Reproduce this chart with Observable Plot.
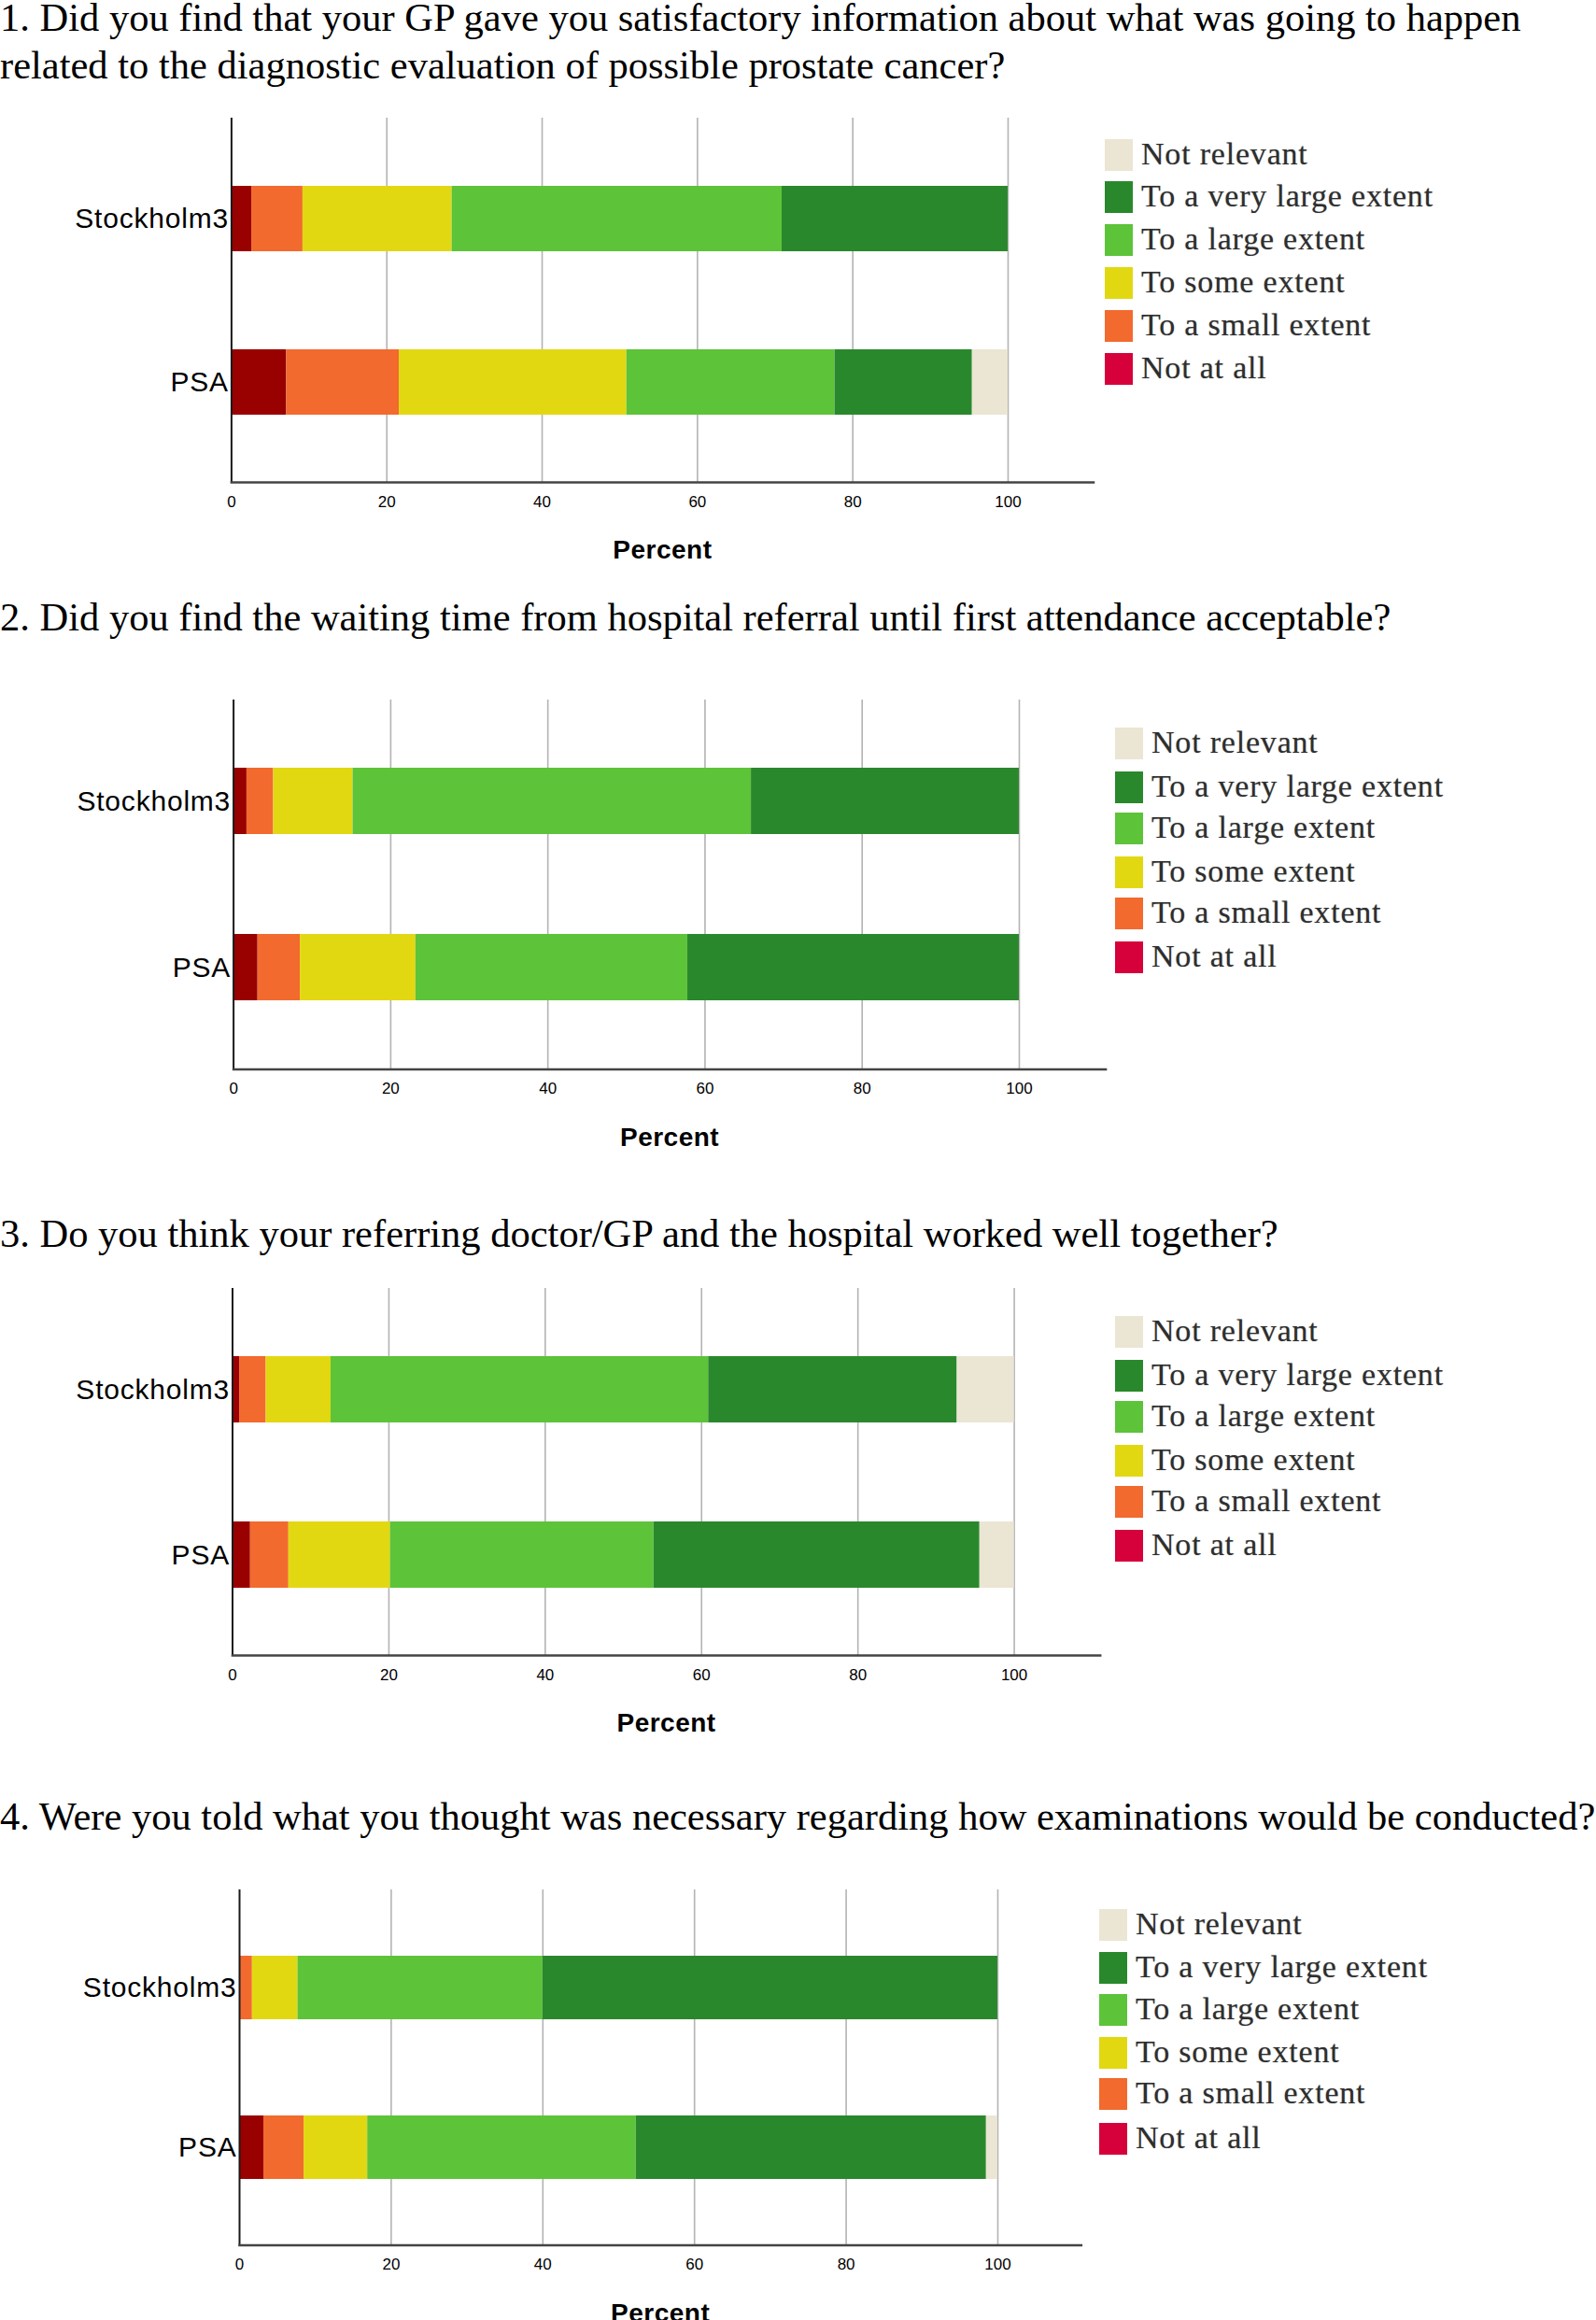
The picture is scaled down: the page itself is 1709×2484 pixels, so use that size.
<!DOCTYPE html>
<html>
<head>
<meta charset="utf-8">
<script src="https://cdn.jsdelivr.net/npm/d3@7"></script>
<script src="https://cdn.jsdelivr.net/npm/@observablehq/plot@0.6"></script>
<style>
  html, body { margin: 0; padding: 0; background: #fff; }
  body { position: relative; width: 1709px; height: 2484px; overflow: hidden; }
  .title { position: absolute; left: 0; font-family: "Liberation Serif", "Times New Roman", serif; font-size: 42.5px; line-height: 51px; color: #000; white-space: nowrap; }
  .plot { position: absolute; left: 0; }
  .plot svg { overflow: visible; }
  .plot g[aria-label="y-axis tick label"] text { letter-spacing: 0.8px; }
  .plot g[aria-label="x-axis label"] text { letter-spacing: 0.5px; }
  .leg { position: absolute; }
  .leg .row { position: absolute; left: 0; height: 33px; white-space: nowrap; }
  .leg .sw { position: absolute; left: 0; top: 0; width: 30px; height: 34px; }
  .leg .lab { position: absolute; left: 39px; top: -6px; font-family: "Liberation Serif", "Times New Roman", serif; font-size: 34px; line-height: 44px; letter-spacing: 0.8px; color: #2e2e2e; text-shadow: 0 0 1.2px rgba(0,0,0,0.35); }
</style>
</head>
<body>
<script>
// ---------- data ----------
const categories = ["Not at all", "To a small extent", "To some extent", "To a large extent", "To a very large extent", "Not relevant"];
const legendOrder = ["Not relevant", "To a very large extent", "To a large extent", "To some extent", "To a small extent", "Not at all"];
const groups = ["Stockholm3", "PSA"];
const xTicks = [0, 20, 40, 60, 80, 100];
const questionTitles = [
  ["1. Did you find that your GP gave you satisfactory information about what was going to happen", "related to the diagnostic evaluation of possible prostate cancer?"],
  ["2. Did you find the waiting time from hospital referral until first attendance acceptable?"],
  ["3. Do you think your referring doctor/GP and the hospital worked well together?"],
  ["4. Were you told what you thought was necessary regarding how examinations would be conducted?"]
];
// percent per category, in the order of `categories`
const q1Stockholm3 = [2.6, 6.6, 19.2, 42.5, 29.1, 0];
const q1PSA        = [7.1, 14.5, 29.3, 26.8, 17.7, 4.6];
const q2Stockholm3 = [1.7, 3.4, 10.1, 50.7, 34.1, 0];
const q2PSA        = [3.1, 5.4, 14.7, 34.6, 42.2, 0];
const q3Stockholm3 = [0.9, 3.4, 8.3, 48.3, 31.8, 7.3];
const q3PSA        = [2.3, 4.9, 13.0, 33.7, 41.7, 4.4];
const q4Stockholm3 = [0, 1.7, 6.0, 32.3, 60.0, 0];
const q4PSA        = [3.2, 5.3, 8.4, 35.4, 46.2, 1.5];
const seriesByQuestion = [
  [q1Stockholm3, q1PSA],
  [q2Stockholm3, q2PSA],
  [q3Stockholm3, q3PSA],
  [q4Stockholm3, q4PSA]
];

// ---------- styles ----------
const barColors = ["#990000", "#f26a2e", "#e2d812", "#5dc339", "#2a882c", "#ebe5d3"];
const legendColors = {"Not relevant": "#ebe5d3", "To a very large extent": "#2a882c", "To a large extent": "#5dc339", "To some extent": "#e2d812", "To a small extent": "#f26a2e", "Not at all": "#d6003a"};

// layout per panel (pixels)
const layout = [
  {titleTop: -6.85, x0: 247.4, x100: 1079, gridTop: 126, axisY: 516, legX: 1183, legRows: [166, 211, 257, 303, 349, 395]},
  {titleTop: 635.15, x0: 249.6, x100: 1091, gridTop: 748.5, axisY: 1144, legX: 1194, legRows: [796, 843, 887, 934, 978, 1025]},
  {titleTop: 1295.15, x0: 248.5, x100: 1085.6, gridTop: 1379, axisY: 1772, legX: 1194, legRows: [1426, 1473, 1517, 1564, 1608, 1655]},
  {titleTop: 1919.15, x0: 256, x100: 1068, gridTop: 2022.5, axisY: 2403, legX: 1177, legRows: [2061, 2107, 2152, 2198, 2242, 2290]}
];
const xMax = 111;

layout.forEach((L, qi) => {
  // title
  const t = document.createElement("div");
  t.className = "title";
  t.style.top = L.titleTop + "px";
  t.innerHTML = questionTitles[qi].map(s => s.replace(/&/g, "&amp;").replace(/</g, "&lt;")).join("<br>");
  document.body.appendChild(t);

  // data rows
  const rows = [];
  groups.forEach((g, gi) => {
    categories.forEach((c, ci) => rows.push({group: g, category: c, value: seriesByQuestion[qi][gi][ci]}));
  });

  const k = (L.x100 - L.x0) / 100;
  const marginTop = 1, marginRight = 10, marginBottom = 100;
  const plotH = L.axisY - L.gridTop;
  const width = L.x0 + xMax * k + marginRight;
  const height = plotH + marginTop + marginBottom;

  const chart = Plot.plot({
    width, height,
    marginLeft: L.x0, marginRight, marginTop, marginBottom,
    style: {fontFamily: "'Liberation Sans', Arial, sans-serif", color: "#000", background: "transparent", overflow: "visible"},
    x: {domain: [0, xMax]},
    y: {domain: groups, paddingInner: 0.6, paddingOuter: 0.41},
    color: {domain: categories, range: barColors},
    marks: [
      Plot.gridX(xTicks.filter(d => d > 0), {stroke: "#b3b3b3", strokeOpacity: 1, strokeWidth: 1.6}),
      Plot.barX(rows, {y: "group", x: "value", fill: "category"}),
      Plot.ruleX([0], {stroke: "#1a1a1a", strokeWidth: 2}),
      Plot.frame({anchor: "bottom", stroke: "#444", strokeWidth: 2.6}),
      Plot.axisX({ticks: xTicks, tickSize: 0, tickPadding: 14, fontSize: 17, label: null}),
      Plot.axisX({ticks: [], label: "Percent", labelAnchor: "center", labelArrow: "none", labelOffset: 82, fontSize: 28, fontWeight: "bold"}),
      Plot.axisY({tickSize: 0, tickPadding: 3, fontSize: 30, label: null})
    ]
  });
  const wrap = document.createElement("div");
  wrap.className = "plot";
  wrap.style.top = (L.gridTop - marginTop) + "px";
  wrap.appendChild(chart);
  document.body.appendChild(wrap);

  // legend
  const leg = document.createElement("div");
  leg.className = "leg";
  leg.style.left = L.legX + "px";
  leg.style.top = "0px";
  legendOrder.forEach((c, i) => {
    const r = document.createElement("div");
    r.className = "row";
    r.style.top = (L.legRows[i] - 17) + "px";
    const sw = document.createElement("div");
    sw.className = "sw";
    sw.style.background = legendColors[c];
    const lab = document.createElement("div");
    lab.className = "lab";
    lab.textContent = c;
    r.appendChild(sw); r.appendChild(lab);
    leg.appendChild(r);
  });
  document.body.appendChild(leg);
});
</script>
</body>
</html>
